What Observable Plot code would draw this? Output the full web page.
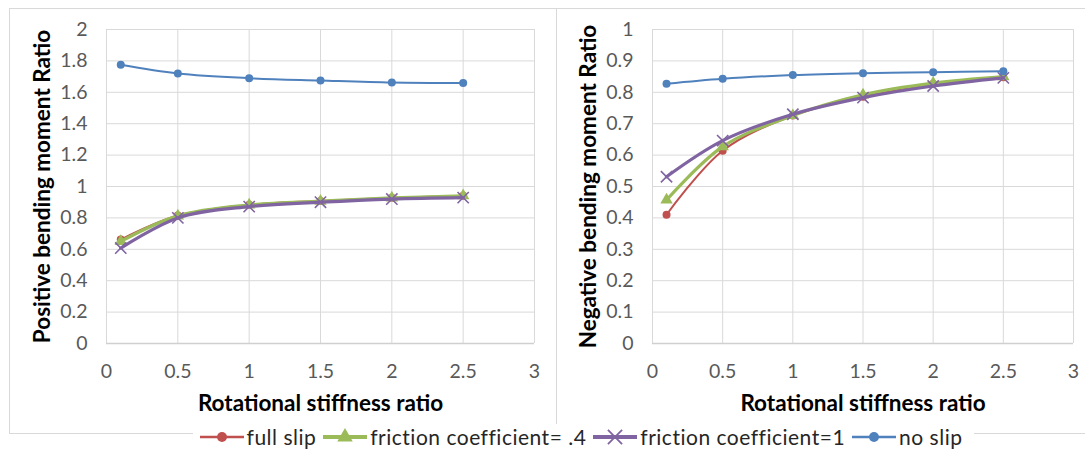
<!DOCTYPE html>
<html>
<head>
<meta charset="utf-8">
<script src="https://cdn.jsdelivr.net/npm/d3@7"></script>
<script src="https://cdn.jsdelivr.net/npm/@observablehq/plot@0.6"></script>
<style>
  html, body { margin: 0; padding: 0; background: #fff; }
  #wrap { position: relative; width: 1085px; height: 450px; overflow: hidden; background: #fff; font-family: Lato, "Open Sans", sans-serif; }
  .box { position: absolute; border: 1px solid #d9d9d9; box-sizing: border-box; }
  .panel { position: absolute; top: 0; }
  #legend { position: absolute; top: 424px; left: 41px; width: 1085px; text-align: center; }
  #legend .inner { display: inline-block; background: #fff; padding: 0 6px; white-space: nowrap; }
  #legend .item { display: inline-flex; align-items: center; font-size: 21px; letter-spacing: 0.5px; color: #262626; margin-right: 6px; }
  #legend svg { margin-right: 2px; }
</style>
</head>
<body>
<div id="wrap">
  <div class="box" style="left:9px; top:8px; width:548px; height:426px;"></div>
  <div class="box" style="left:556px; top:8px; width:560px; height:426px;"></div>
  <div id="left" class="panel" style="left:0px;"></div>
  <div id="right" class="panel" style="left:547px;"></div>
  <div id="legend"><div class="inner"></div></div>
</div>
<script>
const xValues = [0.1, 0.5, 1, 1.5, 2, 2.5];
const seriesNames = ["full slip", "friction coefficient= .4", "friction coefficient=1", "no slip"];
const seriesColors = ["#C0504D", "#9BBB59", "#8064A2", "#4F81BD"];
const seriesSymbols = ["circle", "triangle", "times", "circle"];

// Positive bending moment ratio (left panel)
const positiveFullSlip = [0.662, 0.815, 0.883, 0.908, 0.928, 0.941];
const positiveFriction04 = [0.650, 0.813, 0.882, 0.907, 0.927, 0.941];
const positiveFriction1 = [0.608, 0.800, 0.872, 0.900, 0.920, 0.929];
const positiveNoSlip = [1.775, 1.720, 1.690, 1.675, 1.662, 1.659];

// Negative bending moment ratio (right panel)
const negativeFullSlip = [0.410, 0.614, 0.726, 0.786, 0.827, 0.848];
const negativeFriction04 = [0.457, 0.627, 0.726, 0.792, 0.829, 0.850];
const negativeFriction1 = [0.531, 0.646, 0.730, 0.783, 0.820, 0.846];
const negativeNoSlip = [0.827, 0.843, 0.855, 0.861, 0.864, 0.867];

const xTicks = [0, 0.5, 1, 1.5, 2, 2.5, 3];
const yTicksLeft = [0, 0.2, 0.4, 0.6, 0.8, 1, 1.2, 1.4, 1.6, 1.8, 2];
const yTicksRight = [0, 0.1, 0.2, 0.3, 0.4, 0.5, 0.6, 0.7, 0.8, 0.9, 1];

const xLabel = "Rotational stiffness ratio";
const yLabelLeft = "Positive bending moment Ratio";
const yLabelRight = "Negative bending moment Ratio";

function toRows(seriesArrays) {
  const rows = [];
  seriesArrays.forEach((vals, i) => {
    vals.forEach((v, j) => rows.push({series: seriesNames[i], x: xValues[j], y: v}));
  });
  return rows;
}

const lineWidths = [2, 3.2, 3.2, 2];
const symbolR = [4, 4.6, 5.2, 4];

function makePanel(seriesArrays, yDomain, yTicks, yLabel, width, marginLeft, marginRight, yLabelOffset) {
  const rows = toRows(seriesArrays);
  const marks = [
    Plot.gridX(xTicks, {stroke: "#d9d9d9", strokeOpacity: 1, strokeWidth: 1}),
    Plot.gridY(yTicks, {stroke: "#d9d9d9", strokeOpacity: 1, strokeWidth: 1}),
    Plot.ruleY([yDomain[0]], {stroke: "#d0d0d0", strokeWidth: 1.3}),
    Plot.axisX(xTicks, {tickSize: 0, tickPadding: 21, fontSize: 19.5, fill: "#595959",
      tickFormat: d => String(d), label: xLabel, labelAnchor: "center", labelArrow: "none", labelOffset: 67}),
    Plot.axisY(yTicks, {tickSize: 0, tickPadding: 19, fontSize: 19.5, fill: "#595959",
      tickFormat: d => String(d), label: yLabel, labelAnchor: "center", labelArrow: "none", labelOffset: yLabelOffset})
  ];
  seriesNames.forEach((name, i) => {
    const data = rows.filter(r => r.series === name);
    marks.push(Plot.line(data, {x: "x", y: "y", stroke: seriesColors[i], strokeWidth: lineWidths[i], curve: "catmull-rom"}));
    if (seriesSymbols[i] === "times") {
      marks.push(Plot.dot(data, {x: "x", y: "y", symbol: "times", r: symbolR[i], stroke: seriesColors[i], strokeWidth: 1.6, fill: "none"}));
    } else {
      marks.push(Plot.dot(data, {x: "x", y: "y", symbol: seriesSymbols[i], r: symbolR[i], fill: seriesColors[i], stroke: "none"}));
    }
  });
  const svg = Plot.plot({
    width, height: 420,
    marginLeft, marginRight, marginTop: 29, marginBottom: 77,
    style: {fontFamily: "Lato, 'Open Sans', sans-serif", background: "transparent", overflow: "visible"},
    x: {domain: [0, 3]},
    y: {domain: yDomain},
    marks
  });
  return svg;
}

const left = makePanel([positiveFullSlip, positiveFriction04, positiveFriction1, positiveNoSlip],
  [0, 2], yTicksLeft, yLabelLeft, 550, 106, 550 - 534, 72);
document.getElementById("left").appendChild(left);

const right = makePanel([negativeFullSlip, negativeFriction04, negativeFriction1, negativeNoSlip],
  [0, 1], yTicksRight, yLabelRight, 538, 652 - 547, 538 - (1073 - 547), 72);
document.getElementById("right").appendChild(right);

// style axis labels: bold, black, larger
for (const svg of [left, right]) {
  svg.querySelectorAll("g[aria-label='x-axis label'], g[aria-label='y-axis label']").forEach(g => {
    g.setAttribute("font-weight", "bold");
    g.setAttribute("font-size", "22.5");
    g.setAttribute("fill", "#000");
    g.querySelectorAll("text").forEach(t => {
      t.setAttribute("font-weight", "bold");
      t.setAttribute("font-size", "22.5");
      t.setAttribute("fill", "#000");
    });
  });
}

// legend
const inner = document.querySelector("#legend .inner");
seriesNames.forEach((name, i) => {
  const item = document.createElement("span");
  item.className = "item";
  const ns = "http://www.w3.org/2000/svg";
  const s = document.createElementNS(ns, "svg");
  s.setAttribute("width", 46); s.setAttribute("height", 22);
  const ln = document.createElementNS(ns, "line");
  ln.setAttribute("x1", 1); ln.setAttribute("x2", 45); ln.setAttribute("y1", 11); ln.setAttribute("y2", 11);
  ln.setAttribute("stroke", seriesColors[i]); ln.setAttribute("stroke-width", lineWidths[i] + 0.6);
  s.appendChild(ln);
  const sym = d3.symbol().type(
    seriesSymbols[i] === "circle" ? d3.symbolCircle : seriesSymbols[i] === "triangle" ? d3.symbolTriangle : d3.symbolTimes
  ).size(Math.PI * Math.pow(symbolR[i] * 1.25, 2))();
  const p = document.createElementNS(ns, "path");
  p.setAttribute("d", sym);
  p.setAttribute("transform", "translate(23,11)");
  if (seriesSymbols[i] === "times") { p.setAttribute("fill", "none"); p.setAttribute("stroke", seriesColors[i]); p.setAttribute("stroke-width", 1.8); }
  else p.setAttribute("fill", seriesColors[i]);
  s.appendChild(p);
  item.appendChild(s);
  const t = document.createElement("span");
  t.textContent = name;
  item.appendChild(t);
  inner.appendChild(item);
});
</script>
</body>
</html>
